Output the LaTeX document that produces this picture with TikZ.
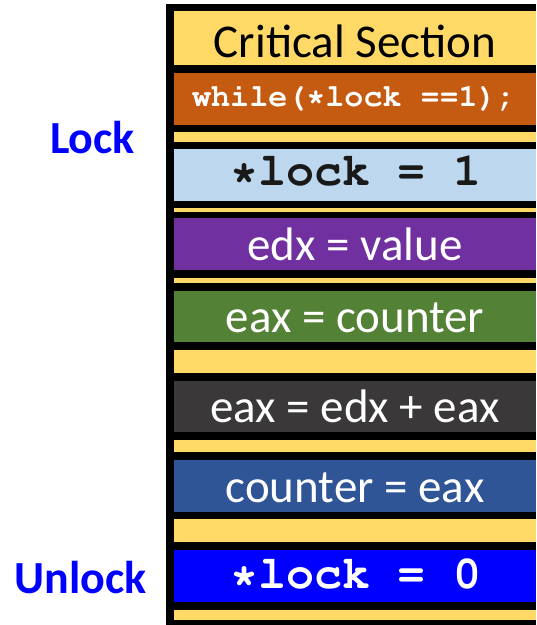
\documentclass[tikz,border=0pt]{standalone}
\usepackage[T1]{fontenc}
\usepackage{fontspec}
\setmainfont{Carlito}
% Courier (URW Nimbus Mono) through the classic T1 encoding
\newcommand\couriercode{\fontencoding{T1}\fontfamily{pcr}\fontseries{b}\selectfont}
\definecolor{slabgold}{HTML}{FFD966}
\definecolor{slaborange}{HTML}{C55A11}
\definecolor{slabsky}{HTML}{BDD7EE}
\definecolor{slabpurple}{HTML}{7030A0}
\definecolor{slabgreen}{HTML}{538135}
\definecolor{slabgray}{HTML}{3A3838}
\definecolor{slabsteel}{HTML}{2F5597}
\definecolor{slabblue}{HTML}{0000FF}
\begin{document}
\begin{tikzpicture}[x=0.75pt,y=-0.75pt,
  slab/.style={draw=none,inner sep=0pt,minimum width=362*0.75pt,anchor=center},
  sanstxt/.style={inner sep=0pt,anchor=base,font=\fontsize{35.25pt}{40pt}\selectfont,text=white},
  codetxt/.style={inner sep=0pt,anchor=base,font=\couriercode\fontsize{35pt}{40pt}\selectfont,text=white},
  sidetxt/.style={inner sep=0pt,anchor=base,font=\bfseries\fontsize{34.5pt}{40pt}\selectfont,text=slabblue}]
  \useasboundingbox (0,0) rectangle (536,625);
  % black frame behind the stack
  \fill[black] (166,4) rectangle (536,625);
  % thin gold spacer strips
  \fill[slabgold] (174,132) rectangle (536,142);
  \fill[slabgold] (174,208) rectangle (536,212);
  \fill[slabgold] (174,278) rectangle (536,283);
  \fill[slabgold] (174,350) rectangle (536,373);
  \fill[slabgold] (174,440) rectangle (536,452);
  \fill[slabgold] (174,519) rectangle (536,542);
  \fill[slabgold] (174,610) rectangle (536,620);
  % instruction slabs
  \node[slab,fill=slabgold,minimum height=54*0.75pt] (cs) at (355,38) {};
  \node[slab,fill=slaborange,minimum height=52*0.75pt] (spin) at (355,99) {};
  \node[slab,fill=slabsky,minimum height=52*0.75pt] (set) at (355,175) {};
  \node[slab,fill=slabpurple,minimum height=52*0.75pt] (edx) at (355,244) {};
  \node[slab,fill=slabgreen,minimum height=51*0.75pt] (load) at (355,316.5) {};
  \node[slab,fill=slabgray,minimum height=51*0.75pt] (add) at (355,406.5) {};
  \node[slab,fill=slabsteel,minimum height=52*0.75pt] (store) at (355,486) {};
  \node[slab,fill=slabblue,minimum height=52*0.75pt] (clear) at (355,576) {};
  % slab texts
  \node[sanstxt,text=black] (cst) at (355,57) {Critical Section};
  \node[codetxt,font=\couriercode\fontsize{23.8pt}{28pt}\selectfont] (spint) at (354,106) {while(*lock ==1);};
  \node[codetxt,text=black!90] (sett) at (356,185) {*lock = 1};
  \node[sanstxt] (edxt) at (355,260) {edx = value};
  \node[sanstxt] (loadt) at (355,332) {eax = counter};
  \node[sanstxt] (addt) at (355,422) {eax = edx + eax};
  \node[sanstxt] (storet) at (355,502) {counter = eax};
  \node[codetxt] (cleart) at (356,588) {*lock = 0};
  % side labels
  \node[sidetxt] (lock) at (92.5,153) {Lock};
  \node[sidetxt] (unlock) at (80.5,593) {Unlock};
\end{tikzpicture}
\end{document}
